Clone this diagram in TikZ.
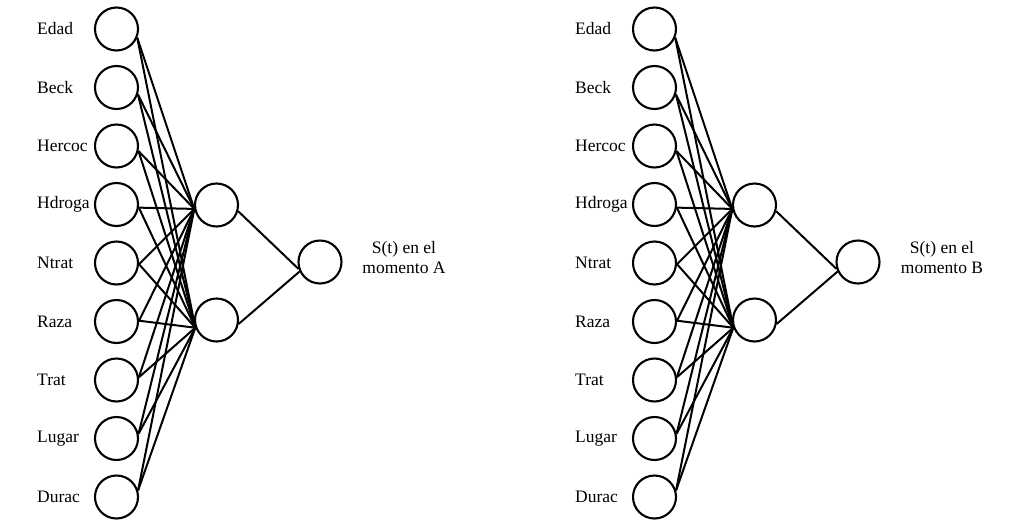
\documentclass[tikz,border=0pt]{standalone}
\usepackage{fontspec}
\setmainfont{Liberation Serif}
\begin{document}
\begin{tikzpicture}[x=1pt,y=-1pt,
  neuron/.style={circle,draw,line width=2.1pt,minimum size=43pt,inner sep=0pt},
  lbl/.style={anchor=west,font=\fontsize{17.5}{20}\selectfont,inner sep=0pt},
  outlbl/.style={align=center,font=\fontsize{17.5}{20}\selectfont,inner sep=0pt},
  conn/.style={line width=2pt}]
\useasboundingbox (0,0) rectangle (1010,520);
\foreach \side/\dx/\lett in {A/0/A,B/538/B}{
  \foreach \name [count=\i from 0] in {Edad,Beck,Hercoc,Hdroga,Ntrat,Raza,Trat,Lugar,Durac}{
    \node[neuron] (in\side\i) at (116.5+\dx,29+58.5*\i) {};
    \node[lbl] (lb\side\i) at (37+\dx,29+58.5*\i) {\name};
  }
  \node[neuron] (hA\side) at (216.5+\dx,205) {};
  \node[neuron] (hB\side) at (216.5+\dx,320) {};
  \node[neuron] (out\side) at (320+\dx,262) {};
  \node[outlbl] (ol\side) at (404+\dx,258) {S(t) en el\\momento \lett};
  \foreach \i in {0,...,8}{
    \pgfmathsetmacro{\ang}{-23+5*\i}
    \draw[conn] (in\side\i.\ang) -- (hA\side.190);
    \draw[conn] (in\side\i.\ang) -- (hB\side.200);
  }
  \draw[conn] (hA\side.344) -- (out\side.198);
  \draw[conn] (hB\side.350) -- (out\side.205);
}
\end{tikzpicture}
\end{document}
